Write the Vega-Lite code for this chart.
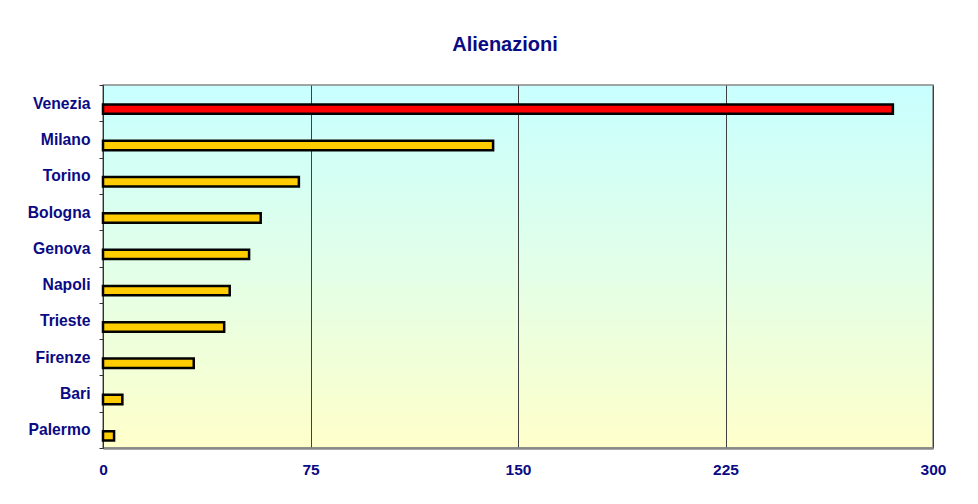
{
  "$schema": "https://vega.github.io/schema/vega-lite/v6.json",
  "autosize": "none",
  "width": 830,
  "height": 363,
  "padding": {"left": 103, "top": 85, "right": 45, "bottom": 56},
  "background": "white",
  "title": {
    "text": "Alienazioni",
    "font": "Liberation Sans",
    "fontSize": 20,
    "fontWeight": "bold",
    "color": "#0A0A84",
    "anchor": "middle",
    "dx": -13,
    "baseline": "alphabetic",
    "offset": 6
  },
  "data": {
    "values": [
      {"citta": "Venezia", "valore": 285.5, "evid": "si"},
      {"citta": "Milano", "valore": 141, "evid": "no"},
      {"citta": "Torino", "valore": 70.8, "evid": "no"},
      {"citta": "Bologna", "valore": 57, "evid": "no"},
      {"citta": "Genova", "valore": 52.8, "evid": "no"},
      {"citta": "Napoli", "valore": 45.8, "evid": "no"},
      {"citta": "Trieste", "valore": 43.8, "evid": "no"},
      {"citta": "Firenze", "valore": 32.8, "evid": "no"},
      {"citta": "Bari", "valore": 7, "evid": "no"},
      {"citta": "Palermo", "valore": 4, "evid": "no"}
    ]
  },
  "mark": {
    "type": "bar",
    "height": 9.4,
    "yOffset": 6,
    "stroke": "black",
    "strokeWidth": 2.5,
    "strokeJoin": "miter"
  },
  "encoding": {
    "y": {
      "field": "citta",
      "type": "nominal",
      "sort": null,
      "scale": {"paddingInner": 0, "paddingOuter": 0},
      "axis": {
        "title": null,
        "labelFont": "Liberation Sans",
        "labelFontSize": 15.7,
        "labelFontWeight": "bold",
        "labelColor": "#0A0A84",
        "labelPadding": 9,
        "tickBand": "extent",
        "tickSize": 4,
        "tickColor": "#333333",
        "domainColor": "#333333",
        "domainWidth": 1,
        "grid": false
      }
    },
    "x": {
      "field": "valore",
      "type": "quantitative",
      "scale": {"domain": [0, 300], "nice": false},
      "axis": {
        "title": null,
        "values": [0, 75, 150, 225, 300],
        "labelFont": "Liberation Sans",
        "labelFontSize": 15.5,
        "labelFontWeight": "bold",
        "labelColor": "#0A0A84",
        "labelPadding": 14,
        "labelFlush": false,
        "ticks": false,
        "domainColor": "#888888",
        "domainWidth": 2.5,
        "grid": true,
        "gridColor": "#404040",
        "gridWidth": 1,
        "gridOpacity": 1
      }
    },
    "color": {
      "field": "evid",
      "type": "nominal",
      "scale": {"domain": ["si", "no"], "range": ["#FF0000", "#FFCC00"]},
      "legend": null
    }
  },
  "config": {
    "view": {
      "stroke": "#888888",
      "strokeWidth": 1.5,
      "fill": {
        "gradient": "linear",
        "x1": 0, "y1": 0, "x2": 0, "y2": 1,
        "stops": [
          {"offset": 0, "color": "#C8FFFF"},
          {"offset": 0.5, "color": "#E2FFE8"},
          {"offset": 1, "color": "#FFFFCA"}
        ]
      }
    }
  }
}
